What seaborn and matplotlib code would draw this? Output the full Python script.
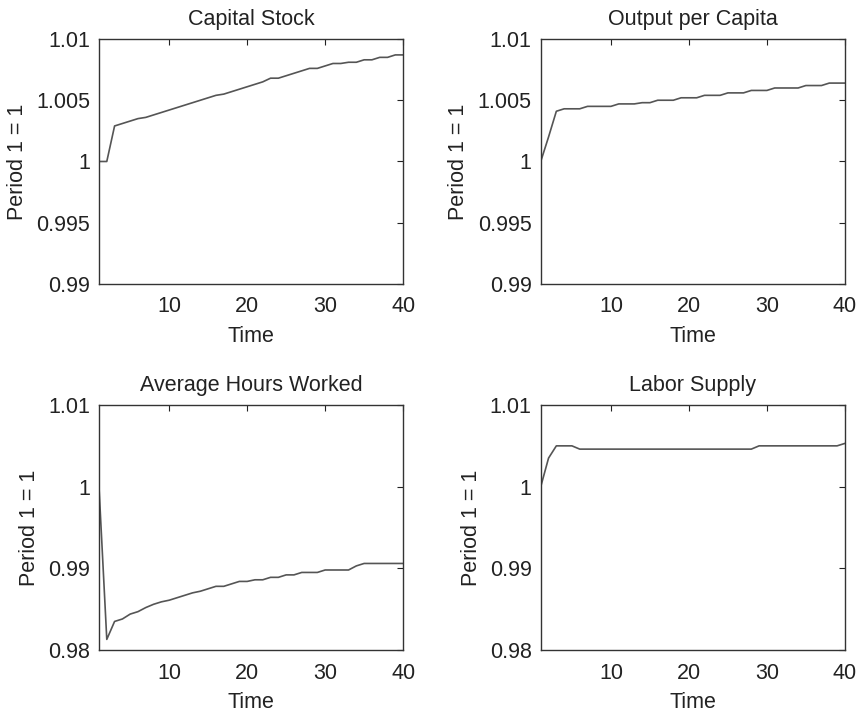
import numpy as np
import pandas as pd
import matplotlib
matplotlib.use("Agg")
import matplotlib.pyplot as plt
import seaborn as sns

sns.set_style("white")
plt.rcParams['font.family'] = ['Liberation Sans', 'DejaVu Sans']

time = list(range(1, 41))

capital_stock = [
    1.0000, 1.0000, 1.0029, 1.0031, 1.0033, 1.0035, 1.0036, 1.0038, 1.0040, 1.0042,
    1.0044, 1.0046, 1.0048, 1.0050, 1.0052, 1.0054, 1.0055, 1.0057, 1.0059, 1.0061,
    1.0063, 1.0065, 1.0068, 1.0068, 1.0070, 1.0072, 1.0074, 1.0076, 1.0076, 1.0078,
    1.0080, 1.0080, 1.0081, 1.0081, 1.0083, 1.0083, 1.0085, 1.0085, 1.0087, 1.0087,
]

output_per_capita = [
    1.0000, 1.0020, 1.0041, 1.0043, 1.0043, 1.0043, 1.0045, 1.0045, 1.0045, 1.0045,
    1.0047, 1.0047, 1.0047, 1.0048, 1.0048, 1.0050, 1.0050, 1.0050, 1.0052, 1.0052,
    1.0052, 1.0054, 1.0054, 1.0054, 1.0056, 1.0056, 1.0056, 1.0058, 1.0058, 1.0058,
    1.0060, 1.0060, 1.0060, 1.0060, 1.0062, 1.0062, 1.0062, 1.0064, 1.0064, 1.0064,
]

avg_hours = [
    1.0000, 0.9813, 0.9835, 0.9838, 0.9844, 0.9847, 0.9852, 0.9856, 0.9859, 0.9861,
    0.9864, 0.9867, 0.9870, 0.9872, 0.9875, 0.9878, 0.9878, 0.9881, 0.9884, 0.9884,
    0.9886, 0.9886, 0.9889, 0.9889, 0.9892, 0.9892, 0.9895, 0.9895, 0.9895, 0.9898,
    0.9898, 0.9898, 0.9898, 0.9903, 0.9906, 0.9906, 0.9906, 0.9906, 0.9906, 0.9906,
]

labor_supply = [
    1.0000, 1.0035, 1.0050, 1.0050, 1.0050, 1.0046, 1.0046, 1.0046, 1.0046, 1.0046,
    1.0046, 1.0046, 1.0046, 1.0046, 1.0046, 1.0046, 1.0046, 1.0046, 1.0046, 1.0046,
    1.0046, 1.0046, 1.0046, 1.0046, 1.0046, 1.0046, 1.0046, 1.0046, 1.0050, 1.0050,
    1.0050, 1.0050, 1.0050, 1.0050, 1.0050, 1.0050, 1.0050, 1.0050, 1.0050, 1.0053,
]

titles = ["Capital Stock", "Output per Capita", "Average Hours Worked", "Labor Supply"]
series = [capital_stock, output_per_capita, avg_hours, labor_supply]

top_yticks = [0.99, 0.995, 1.0, 1.005, 1.01]
top_ylabels = ["0.99", "0.995", "1", "1.005", "1.01"]
bot_yticks = [0.98, 0.99, 1.0, 1.01]
bot_ylabels = ["0.98", "0.99", "1", "1.01"]

fs = 15.5

fig, axes = plt.subplots(2, 2, figsize=(8.63, 7.14), dpi=100)
plt.subplots_adjust(left=0.1147, right=0.979, top=0.9454, bottom=0.0896,
                    wspace=0.4525, hspace=0.494)

for i, ax in enumerate(axes.flat):
    df = pd.DataFrame({"Time": time, "value": series[i]})
    sns.lineplot(data=df, x="Time", y="value", ax=ax, color="#555555", linewidth=1.2)
    ax.set_title(titles[i], fontsize=fs, pad=10, color="#222222")
    ax.set_xlabel("Time", fontsize=fs, labelpad=6, color="#222222")
    ax.set_ylabel("Period 1 = 1", fontsize=fs, labelpad=6, color="#222222")
    ax.set_xlim(1, 40)
    ax.set_xticks([10, 20, 30, 40])
    if i < 2:
        ax.set_ylim(0.99, 1.01)
        ax.set_yticks(top_yticks)
        ax.set_yticklabels(top_ylabels)
    else:
        ax.set_ylim(0.98, 1.01)
        ax.set_yticks(bot_yticks)
        ax.set_yticklabels(bot_ylabels)
    ax.tick_params(direction="in", length=4, width=0.8, top=True, right=True,
                   labelsize=fs, colors="#222222")
    ax.tick_params(axis="x", pad=9)
    ax.tick_params(axis="y", pad=6.5)
    for sp in ax.spines.values():
        sp.set_visible(True)
        sp.set_color("#333333")
        sp.set_linewidth(1.0)

fig.savefig("out.png", dpi=100)
